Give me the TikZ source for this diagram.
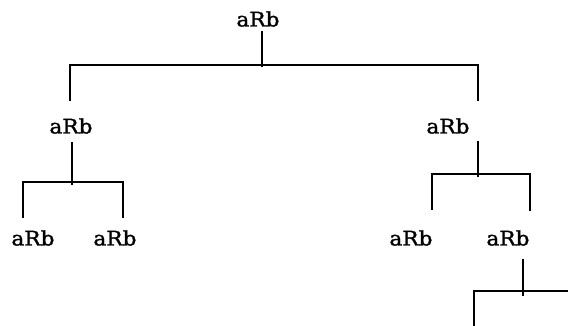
\documentclass[tikz,border=0pt]{standalone}
\usepackage{fontspec}
\setmainfont[FakeStretch=1.08,FakeBold=1.6]{DejaVu Serif}
\begin{document}
\begin{tikzpicture}[x=1pt,y=-1pt,
  lbl/.style={inner sep=0pt, font=\fontsize{20}{22}\selectfont},
  br/.style={line width=1.9pt, line cap=rect}]
\useasboundingbox (0,0) rectangle (568,326);
% labels
\node[lbl] (t)  at (258,19)  {aRb};
\node[lbl] (l)  at (71,126)  {aRb};
\node[lbl] (r)  at (448,126) {aRb};
\node[lbl] (ll) at (33,238)  {aRb};
\node[lbl] (lr) at (115,238) {aRb};
\node[lbl] (rl) at (411,238) {aRb};
\node[lbl] (rr) at (508,238) {aRb};
% stems and bars
\coordinate (ts) at (262,32);  \coordinate (tj) at (262,66);
\coordinate (ta) at (70,65);   \coordinate (tb) at (478,65);
\coordinate (ta2) at (70,100); \coordinate (tb2) at (478,100);
\coordinate (ls) at (72,143);  \coordinate (lj) at (72,184);
\coordinate (la) at (23,182);  \coordinate (lb) at (123,182);
\coordinate (la2) at (23,217); \coordinate (lb2) at (123,217);
\coordinate (rs) at (478,142); \coordinate (rj) at (478,176);
\coordinate (ra) at (432,174); \coordinate (rb) at (530,174);
\coordinate (ra2) at (432,209);\coordinate (rb2) at (530,210);
\coordinate (qs) at (523,260); \coordinate (qj) at (523,295);
\coordinate (qa) at (474,291); \coordinate (qb) at (570,291);
\coordinate (qa2) at (474,330);
\draw[br] (ts) -- (tj);
\draw[br] (ta2) -- (ta) -- (tb) -- (tb2);
\draw[br] (ls) -- (lj);
\draw[br] (la2) -- (la) -- (lb) -- (lb2);
\draw[br] (rs) -- (rj);
\draw[br] (ra2) -- (ra) -- (rb) -- (rb2);
\draw[br] (qs) -- (qj);
\draw[br] (qa2) -- (qa) -- (qb);
\end{tikzpicture}
\end{document}
